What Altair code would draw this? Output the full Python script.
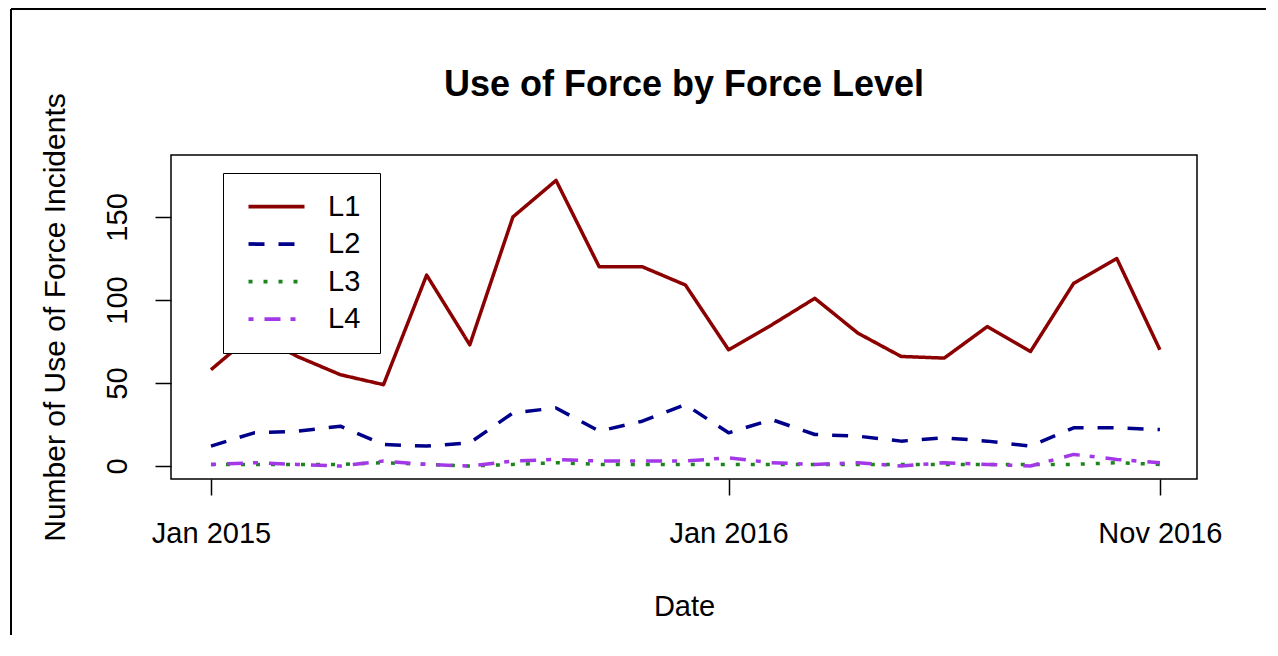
import altair as alt
import pandas as pd

# ---- data ----
months = ["2015-01", "2015-02", "2015-03", "2015-04", "2015-05", "2015-06",
          "2015-07", "2015-08", "2015-09", "2015-10", "2015-11", "2015-12",
          "2016-01", "2016-02", "2016-03", "2016-04", "2016-05", "2016-06",
          "2016-07", "2016-08", "2016-09", "2016-10", "2016-11"]
L1 = [58, 80, 66, 55, 49, 115, 73, 150, 172, 120, 120, 109,
      70, 85, 101, 80, 66, 65, 84, 69, 110, 125, 70]
L2 = [12, 20, 21, 24, 13, 12, 14, 32, 35, 21, 27, 37,
      20, 28, 19, 18, 15, 17, 15, 12, 23, 23, 22]
L3 = [1, 1, 1, 1, 2, 1, 0, 1, 2, 1, 1, 1,
      1, 1, 1, 1, 1, 1, 1, 1, 1, 2, 1]
L4 = [1, 2, 1, 0, 3, 1, 0, 3, 4, 3, 3, 3,
      5, 2, 1, 2, 0, 2, 1, 0, 7, 4, 2]

series_names = ["L1", "L2", "L3", "L4"]
series_colors = ["#8B0000", "#00008B", "#1C861C", "#A238E6"]
series_dash = [[1, 0], [16, 14], [4, 11], [5, 11, 16, 10]]

x_tick_values = [0, 12, 22]
x_tick_labels = ["Jan 2015", "Jan 2016", "Nov 2016"]
y_tick_values = [0, 50, 100, 150]

title_text = "Use of Force by Force Level"
x_title = "Date"
y_title = "Number of Use of Force Incidents"

FONT = "Liberation Sans"

rows = []
for name, vals in zip(series_names, [L1, L2, L3, L4]):
    for i, (m, v) in enumerate(zip(months, vals)):
        rows.append({"month": m, "idx": i, "series": name, "value": v})
df = pd.DataFrame(rows)

label_expr = " : ".join(
    f"datum.value == {v} ? '{t}'" for v, t in zip(x_tick_values, x_tick_labels)
) + " : ''"

legend = alt.Legend(
    orient="none", legendX=52, legendY=18, title=None, direction="vertical",
    padding=19, rowPadding=7.5,
    symbolType="M-5.6,0H5.6", symbolSize=100, symbolStrokeWidth=3.75,
    symbolOffset=20, labelOffset=37,
    labelFontSize=29, labelFont=FONT, labelColor="black",
    strokeColor="black", fillColor="white",
)

lines = alt.Chart(df).mark_line(strokeWidth=3.5, strokeCap="butt", strokeJoin="round").encode(
    x=alt.X("idx:Q",
            scale=alt.Scale(domain=[-0.927, 22.86], nice=False, zero=False),
            axis=alt.Axis(values=x_tick_values, labelExpr=label_expr, title=x_title,
                          grid=False, domain=False, tickSize=16, tickColor="black",
                          tickWidth=1.5, labelFontSize=29, labelFont=FONT,
                          labelColor="black", labelPadding=24, labelFlush=False,
                          titleFontSize=29, titleFont=FONT, titleColor="black",
                          titleFontWeight="normal", titlePadding=44)),
    y=alt.Y("value:Q",
            scale=alt.Scale(domain=[-7.8, 187.3], nice=False, zero=False),
            axis=alt.Axis(values=y_tick_values, title=y_title, grid=False, domain=False,
                          tickSize=16, tickColor="black", tickWidth=1.5,
                          labelAngle=-90, labelAlign="center", labelBaseline="bottom",
                          labelFontSize=29, labelFont=FONT, labelColor="black",
                          labelPadding=23,
                          titleFontSize=30, titleFont=FONT, titleColor="black",
                          titleFontWeight="normal", titlePadding=33)),
    color=alt.Color("series:N", scale=alt.Scale(domain=series_names, range=series_colors),
                    legend=legend),
    strokeDash=alt.StrokeDash("series:N", scale=alt.Scale(domain=series_names, range=series_dash),
                              legend=legend),
)

frame_df = pd.DataFrame({"k": [0]})
left_rule = alt.Chart(frame_df).mark_rule(color="black", strokeWidth=2).encode(
    x=alt.value(-160), y=alt.value(-146), y2=alt.value(480))
top_rule = alt.Chart(frame_df).mark_rule(color="black", strokeWidth=2).encode(
    x=alt.value(-160), x2=alt.value(1095), y=alt.value(-146))
title_mark = alt.Chart(frame_df).mark_text(
    text=title_text, font=FONT, fontWeight="bold", fontSize=36,
    align="center", baseline="alphabetic", color="black").encode(
    x=alt.value(513), y=alt.value(-59))

chart = alt.layer(lines, left_rule, top_rule, title_mark).properties(
    width=1026, height=324,
    padding={"left": 2, "top": 0, "right": 0, "bottom": 0},
).configure_view(stroke="black", strokeWidth=1.5)

chart.save("out.html", embed_options={"renderer": "svg", "actions": False})
